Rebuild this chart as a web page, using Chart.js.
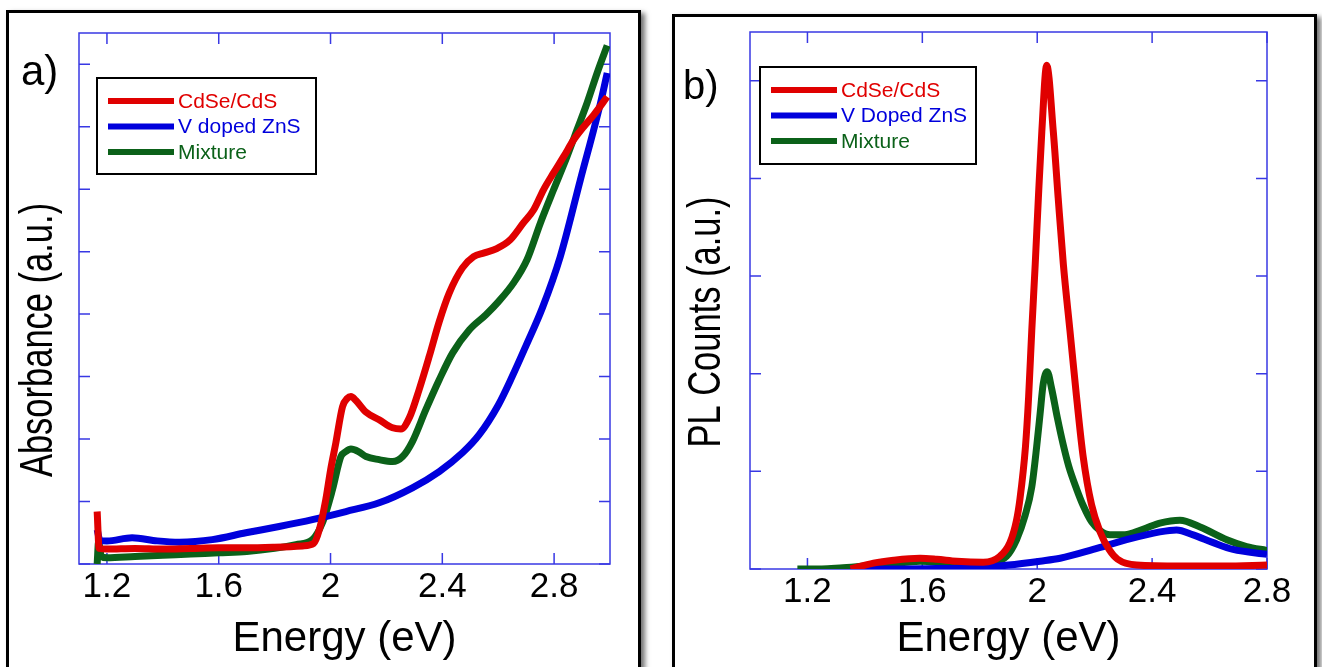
<!doctype html>
<html lang="en">

<head>
    <meta charset="utf-8">
    <title>Absorbance and PL</title>
    <script src="https://cdn.jsdelivr.net/npm/chart.js@4.4.0/dist/chart.umd.min.js"></script>
    <style>
        body { margin: 0; background: #fff; width: 1322px; height: 667px; overflow: hidden; position: relative; }
        .box { position: absolute; border: 3px solid #000; background: #fff; box-shadow: 4px 3px 5px rgba(0, 0, 0, 0.55); }
        #boxA { left: 6px; top: 10px; width: 629px; height: 700px; }
        #boxB { left: 672px; top: 14px; width: 639px; height: 700px; }
        canvas { position: absolute; top: 0; }
        #chartA { left: 0; }
        #chartB { left: 660px; }
    </style>
</head>

<body>

    <div class="box" id="boxA"></div>
    <div class="box" id="boxB"></div>
    <canvas id="chartA" width="660" height="667"></canvas>
    <canvas id="chartB" width="662" height="667"></canvas>

    <script>
        // ---- a) absorbance ----
        var absCdSeX = [1.165, 1.172, 1.2, 1.3, 1.4, 1.5, 1.6, 1.7, 1.8, 1.9, 1.94, 1.96, 1.983, 2.0, 2.019, 2.043, 2.06, 2.073, 2.09, 2.127, 2.174, 2.222, 2.252, 2.282, 2.317, 2.353, 2.389, 2.425, 2.472, 2.512, 2.55, 2.595, 2.643, 2.69, 2.727, 2.762, 2.798, 2.834, 2.87, 2.906, 2.942, 2.99];
        var absCdSeY = [0.84, 0.25, 0.24, 0.25, 0.24, 0.25, 0.26, 0.26, 0.27, 0.29, 0.33, 0.55, 1.03, 1.5, 1.94, 2.52, 2.65, 2.68, 2.62, 2.43, 2.31, 2.18, 2.16, 2.34, 2.79, 3.32, 3.88, 4.34, 4.74, 4.92, 4.98, 5.05, 5.19, 5.46, 5.67, 5.99, 6.26, 6.52, 6.79, 7.0, 7.19, 7.48];

        var absZnSX = [1.165, 1.175, 1.2, 1.29, 1.38, 1.46, 1.577, 1.697, 1.816, 1.935, 2.055, 2.174, 2.293, 2.389, 2.472, 2.532, 2.601, 2.65, 2.7, 2.758, 2.822, 2.894, 2.966, 2.99];
        var absZnSY = [0.55, 0.38, 0.37, 0.42, 0.37, 0.35, 0.39, 0.5, 0.6, 0.71, 0.84, 0.98, 1.22, 1.48, 1.78, 2.07, 2.55, 3.0, 3.5, 4.1, 4.92, 6.15, 7.38, 7.86];

        var absMixX = [1.165, 1.17, 1.18, 1.2, 1.3, 1.4, 1.5, 1.6, 1.7, 1.8, 1.876, 1.935, 1.971, 2.007, 2.037, 2.055, 2.073, 2.1, 2.127, 2.174, 2.222, 2.258, 2.293, 2.341, 2.389, 2.437, 2.497, 2.556, 2.601, 2.655, 2.703, 2.751, 2.798, 2.846, 2.882, 2.918, 2.954, 2.99];
        var absMixY = [0.0, 0.35, 0.12, 0.1, 0.12, 0.14, 0.16, 0.18, 0.2, 0.25, 0.31, 0.39, 0.66, 1.19, 1.72, 1.8, 1.84, 1.8, 1.72, 1.67, 1.64, 1.72, 1.96, 2.47, 2.95, 3.38, 3.75, 3.99, 4.2, 4.5, 4.87, 5.46, 5.99, 6.52, 6.95, 7.38, 7.86, 8.3];

        var ticksAx = [1.2, 1.6, 2.0, 2.4, 2.8];
        var ticksAy = [0, 1, 2, 3, 4, 5, 6, 7, 8];

        // ---- b) PL counts ----
        var plCdSeX = [1.35, 1.43, 1.5, 1.592, 1.65, 1.72, 1.812, 1.87, 1.905, 1.928, 1.94, 1.959, 1.97, 1.981, 1.993, 2.004, 2.016, 2.033, 2.056, 2.073, 2.091, 2.114, 2.137, 2.16, 2.189, 2.219, 2.25, 2.28, 2.346, 2.5, 2.65, 2.8];
        var plCdSeY = [0.0, 0.06, 0.09, 0.11, 0.1, 0.08, 0.07, 0.13, 0.27, 0.5, 0.72, 1.25, 1.76, 2.44, 3.12, 3.8, 4.48, 5.16, 4.48, 3.8, 3.12, 2.44, 1.76, 1.15, 0.66, 0.38, 0.2, 0.1, 0.04, 0.03, 0.03, 0.04];

        var plZnSX = [1.35, 1.5, 1.65, 1.778, 1.9, 2.01, 2.08, 2.195, 2.311, 2.427, 2.485, 2.543, 2.613, 2.682, 2.8];
        var plZnSY = [0.0, 0.0, 0.005, 0.01, 0.04, 0.08, 0.11, 0.2, 0.3, 0.38, 0.4, 0.35, 0.27, 0.2, 0.15];

        var plMixX = [1.165, 1.25, 1.313, 1.4, 1.487, 1.592, 1.72, 1.847, 1.893, 1.928, 1.958, 1.981, 1.998, 2.01, 2.021, 2.035, 2.05, 2.07, 2.09, 2.11, 2.137, 2.16, 2.19, 2.22, 2.253, 2.3, 2.334, 2.38, 2.427, 2.497, 2.567, 2.66, 2.729, 2.8];
        var plMixY = [0.0, 0.0, 0.01, 0.03, 0.05, 0.08, 0.06, 0.07, 0.13, 0.3, 0.55, 0.84, 1.25, 1.59, 1.9, 2.02, 1.85, 1.55, 1.28, 1.05, 0.82, 0.65, 0.48, 0.39, 0.35, 0.35, 0.37, 0.42, 0.47, 0.5, 0.43, 0.3, 0.23, 0.19];

        var ticksBx = [1.2, 1.6, 2.0, 2.4, 2.8];
        var ticksBy = [0, 1, 2, 3, 4, 5];

        var RED = '#e00000', BLUE = '#0000dc', GREEN = '#0b6119';
        var FONT = '"Liberation Sans", Arial, sans-serif';

        function pts(xs, ys) {
            return xs.map(function (x, i) { return { x: x, y: ys[i] }; });
        }

        function serie(label, color, xs, ys) {
            return {
                label: label, data: pts(xs, ys), borderColor: color, backgroundColor: color,
                borderWidth: 7, pointRadius: 0, cubicInterpolationMode: 'monotone', borderJoinStyle: 'round'
            };
        }

        // blue frame with inward ticks on all four sides
        var frame = {
            id: 'frame',
            beforeDatasetsDraw: function (chart, args, o) {
                var ctx = chart.ctx, a = chart.chartArea, x = chart.scales.x, y = chart.scales.y;
                ctx.save();
                ctx.strokeStyle = '#3838e4';
                ctx.lineWidth = 1.5;
                ctx.strokeRect(a.left, a.top, a.right - a.left, a.bottom - a.top);
                ctx.beginPath();
                o.xTicks.forEach(function (v) {
                    var px = x.getPixelForValue(v);
                    ctx.moveTo(px, a.bottom); ctx.lineTo(px, a.bottom - 11);
                    ctx.moveTo(px, a.top); ctx.lineTo(px, a.top + 11);
                });
                o.yTicks.forEach(function (v) {
                    var py = y.getPixelForValue(v);
                    ctx.moveTo(a.left, py); ctx.lineTo(a.left + 11, py);
                    ctx.moveTo(a.right, py); ctx.lineTo(a.right - 11, py);
                });
                ctx.stroke();
                ctx.restore();
            }
        };

        // boxed legend inside the plot, panel letter, and the narrow y title
        var boxLegend = {
            id: 'boxLegend',
            afterDraw: function (chart, args, o) {
                var ctx = chart.ctx;
                ctx.save();
                ctx.fillStyle = '#000';
                ctx.font = o.letterSize + 'px ' + FONT;
                ctx.textBaseline = 'alphabetic';
                ctx.fillText(o.letter, o.letterX, o.letterY);

                // y title: condensed like the original figure
                ctx.save();
                ctx.translate(o.titleX, o.titleY);
                ctx.rotate(-Math.PI / 2);
                ctx.scale(0.75, 1);
                ctx.textAlign = 'center';
                ctx.font = '46px ' + FONT;
                ctx.fillText(o.title, 0, 0);
                ctx.restore();

                ctx.lineWidth = 2;
                ctx.strokeStyle = '#000';
                ctx.strokeRect(o.x, o.y, o.w, o.h);
                ctx.font = '21px ' + FONT;
                ctx.textBaseline = 'middle';
                chart.data.datasets.forEach(function (ds, i) {
                    var yy = o.y + 23 + i * 25.5;
                    ctx.strokeStyle = ds.borderColor;
                    ctx.lineWidth = 6;
                    ctx.beginPath();
                    ctx.moveTo(o.x + 11, yy); ctx.lineTo(o.x + 77, yy);
                    ctx.stroke();
                    ctx.fillStyle = ds.borderColor;
                    ctx.fillText(ds.label, o.x + 81, yy + 1);
                });
                ctx.restore();
            }
        };

        function makeChart(id, sets, cfg) {
            return new Chart(document.getElementById(id), {
                type: 'line',
                data: { datasets: sets },
                plugins: [frame, boxLegend],
                options: {
                    responsive: false,
                    animation: false,
                    layout: { padding: { top: cfg.top, right: cfg.right, left: 0, bottom: 0 } },
                    plugins: {
                        legend: { display: false },
                        tooltip: { enabled: false },
                        frame: { xTicks: cfg.xTicks, yTicks: cfg.yTicks },
                        boxLegend: cfg.legend
                    },
                    scales: {
                        x: {
                            type: 'linear', min: cfg.xMin, max: cfg.xMax,
                            afterBuildTicks: function (s) { s.ticks = cfg.xTicks.map(function (v) { return { value: v }; }); },
                            afterFit: function (s) { s.height = cfg.xHeight; },
                            grid: { display: false, drawTicks: false },
                            border: { display: false },
                            ticks: {
                                color: '#000', padding: 6, maxRotation: 0, autoSkip: false,
                                font: { family: FONT, size: 35, lineHeight: 1 },
                                callback: function (v) { return String(+Number(v).toFixed(1)); }
                            },
                            title: {
                                display: true, text: 'Energy (eV)', color: '#000',
                                font: { family: FONT, size: 42, lineHeight: 1 },
                                padding: { top: 0, bottom: 7 }
                            }
                        },
                        y: {
                            type: 'linear', min: 0, max: cfg.yMax,
                            afterBuildTicks: function (s) { s.ticks = cfg.yTicks.map(function (v) { return { value: v }; }); },
                            afterFit: function (s) { s.width = cfg.yWidth; },
                            grid: { display: false, drawTicks: false },
                            border: { display: false },
                            ticks: { display: false }
                        }
                    }
                }
            });
        }

        makeChart('chartA', [
            serie('CdSe/CdS', RED, absCdSeX, absCdSeY),
            serie('V doped ZnS', BLUE, absZnSX, absZnSY),
            serie('Mixture', GREEN, absMixX, absMixY)
        ], {
            top: 33, right: 50, xHeight: 103, yWidth: 79,
            xMin: 1.1, xMax: 3.0, yMax: 8.5, xTicks: ticksAx, yTicks: ticksAy,
            legend: {
                letter: 'a)', letterSize: 42, letterX: 21, letterY: 85,
                title: 'Absorbance (a.u.)', titleX: 52, titleY: 340,
                x: 97, y: 78, w: 219, h: 96
            }
        });

        makeChart('chartB', [
            serie('CdSe/CdS', RED, plCdSeX, plCdSeY),
            serie('V Doped ZnS', BLUE, plZnSX, plZnSY),
            serie('Mixture', GREEN, plMixX, plMixY)
        ], {
            top: 32, right: 55, xHeight: 98, yWidth: 90,
            xMin: 1.0, xMax: 2.8, yMax: 5.5, xTicks: ticksBx, yTicks: ticksBy,
            legend: {
                letter: 'b)', letterSize: 40, letterX: 23, letterY: 99,
                title: 'PL Counts (a.u.)', titleX: 60, titleY: 322,
                x: 100, y: 67, w: 216, h: 97
            }
        });
    </script>

</body>

</html>
